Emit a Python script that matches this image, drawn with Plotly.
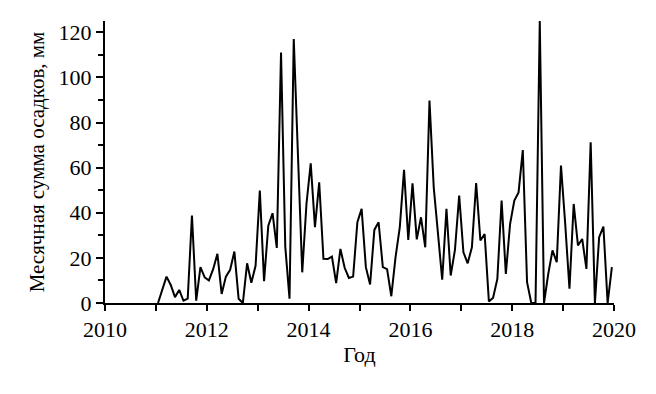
import plotly.graph_objects as go

start_year = 2011
precip_mm = [
    0, 6, 11.7, 8, 2.6, 5.8, 1, 1.9, 38.8, 1, 15.9, 11.4,
    10, 15, 21.8, 4, 11.7, 14.7, 22.8, 1.9, 0, 17.6, 9, 16.5,
    49.8, 9.7, 34.3, 39.8, 24.4, 111, 25, 1.9, 117, 65, 13.6, 44,
    61.9, 33.6, 53.5, 19.6, 19.5, 20.6, 8.8, 24, 15.6, 11.1, 11.7, 35.8,
    41.7, 15.9, 8.2, 32.4, 35.8, 15.9, 15, 3, 20.3, 33.6, 59, 28,
    53, 28.2, 38, 24.7, 89.7, 51.3, 32, 10.3, 41.7, 12.2, 23.5, 47.6,
    22.5, 17.6, 24.7, 53.2, 27.7, 30.6, 0.7, 2.3, 10.7, 45.4, 12.9, 35,
    45.4, 49, 67.8, 9.2, 0, 0, 125, 0, 12.9, 23.3, 18.1, 60.9,
    35, 6.3, 43.9, 25.5, 28.4, 15.1, 71.2, 0, 29.2, 33.9, 0, 15.9,
]
x_tick_years = [2010, 2012, 2014, 2016, 2018, 2020]
y_tick_values = [0, 20, 40, 60, 80, 100, 120]

x_years = [start_year + (i + 0.5) / 12 for i in range(len(precip_mm))]

font_family = "Liberation Serif, Times New Roman, serif"
fs = 22

fig = go.Figure()
fig.add_trace(go.Scatter(
    x=x_years, y=precip_mm, mode="lines",
    line=dict(color="black", width=2),
    showlegend=False,
))

fig.update_layout(
    width=656, height=394,
    margin=dict(l=105, r=42, t=21, b=91),
    paper_bgcolor="white", plot_bgcolor="white",
    font=dict(family=font_family, size=fs, color="black"),
)
fig.update_xaxes(
    range=[2010, 2020],
    tickmode="array", tickvals=x_tick_years,
    ticktext=[str(v) for v in x_tick_years],
    ticks="outside", ticklen=6, tickwidth=2, tickcolor="black",
    minor=dict(dtick=1, tick0=2010, ticks="outside", ticklen=6, tickwidth=2,
               tickcolor="black", showgrid=False),
    showline=True, linecolor="black", linewidth=2,
    showgrid=False, zeroline=False,
    title=dict(text="Год", font=dict(family=font_family, size=fs), standoff=5),
    tickfont=dict(family=font_family, size=fs),
)
fig.update_yaxes(
    range=[0, 125],
    tickmode="array", tickvals=y_tick_values,
    ticks="outside", ticklen=7, tickwidth=2, tickcolor="black",
    minor=dict(dtick=10, tick0=0, ticks="outside", ticklen=5, tickwidth=2,
               tickcolor="black", showgrid=False),
    showline=True, linecolor="black", linewidth=2,
    showgrid=False, zeroline=False,
    title=dict(text="Месячная сумма осадков, мм",
               font=dict(family=font_family, size=21), standoff=8),
    tickfont=dict(family=font_family, size=fs),
)

fig.write_html("out.html", config={"displayModeBar": False},
               post_script="document.body.style.margin='0';document.body.style.padding='0';")
